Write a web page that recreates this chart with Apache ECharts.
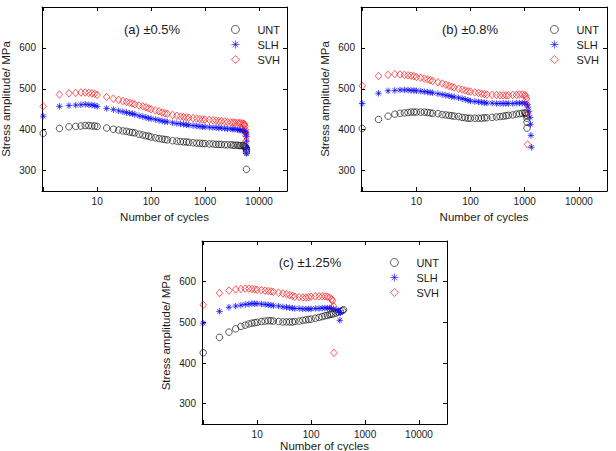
<!DOCTYPE html>
<html>
<head>
<meta charset="utf-8">
<script src="https://cdn.jsdelivr.net/npm/echarts@6.0.0/dist/echarts.min.js"></script>
<style>
  html, body { margin: 0; padding: 0; background: #fff; }
  #main { width: 616px; height: 451px; }
</style>
</head>
<body>
<div id="main"></div>
<script>
// tick labels
var xTicks = [10, 100, 1000, 10000];
var yTicks = [300, 400, 500, 600];
var materials = ['UNT', 'SLH', 'SVH'];
var panelTitles = ['(a) \u00b10.5%', '(b) \u00b10.8%', '(c) \u00b11.25%'];

// (a) +-0.5%
var cyclesA = [1,2,3,4,5,6,7,8,9,10, 15,20,25,30,35,40,45,50, 60,70,80,90,100, 120,140,160,180,200,
  250,300,350,400,450,500, 600,700,800,900,1000, 1200,1400,1600,1800,2000,
  2300,2600,3000,3300,3600,4000,4300,4600,5000,5300];
var untA = [391,403,407,408,409,410,410,409,409,408, 404,401,399,397,396,394,393,392, 389,387,385,384,382,
  380,378,377,376,375, 373,372,371,370,370,369, 368,367,367,366,366, 365,365,364,364,364,
  363,363,363,362,362,362,361,361,361,360];
var slhA = [433,457,459,460,461,462,461,460,459,457, 452,449,446,444,442,440,439,437, 434,432,430,428,427,
  425,423,421,420,419, 417,415,414,413,412,411, 410,409,408,407,407, 406,405,405,404,404,
  403,402,402,401,401,400,399,399,398,397];
var svhA = [457,486,489,490,491,491,490,489,488,485, 480,476,473,470,468,466,464,462, 459,457,455,452,450,
  447,445,442,440,439, 436,434,432,431,430,429, 428,427,426,425,425, 424,423,422,421,421,
  420,419,418,418,417,417,416,416,415,414];
var untATailX = [5500,5700,5800,5850,5850,5850];
var untATailY = [359,357,354,350,345,303];
var slhATailX = [5500,5700,5800,5850,5850,5850,5850];
var slhATailY = [396,393,390,383,372,356,342];
var svhATailX = [5400,5500,5600,5700,5700];
var svhATailY = [412,408,400,385,372];

// (b) +-0.8%
var cyclesB = [1,2,3,4,5,6,7,8,9,10, 12,14,16,18,20, 25,30,35,40,45,50, 60,70,80,90,100,
  120,140,160,180,200, 250,300,350,400,450,500, 600,700,800,900,1000];
var untB = [403,425,433,438,440,441,442,443,443,443, 443,443,442,441,440, 439,437,436,435,434,433,
  432,430,429,428,428, 428,428,428,429,429, 430,431,432,433,434,435, 436,438,439,440,441];
var slhB = [464,489,495,496,497,497,497,496,496,495, 494,493,492,491,490, 488,486,484,483,481,480,
  478,476,474,472,470, 469,468,467,466,465, 465,464,464,464,464,464, 464,465,465,465,465];
var svhB = [507,531,534,536,535,534,533,532,531,529, 527,525,523,521,519, 516,513,510,507,505,503,
  500,498,496,494,493, 491,490,488,487,486, 485,485,484,484,484,484, 485,485,486,486,485];
var untBTailX = [1050,1080,1100,1100,1100];
var untBTailY = [440,435,428,418,404];
var slhBTailX = [1100,1150,1200,1250,1280,1300,1330];
var slhBTailY = [462,455,445,430,413,386,357];
var svhBTailX = [1050,1080,1100,1120,1130];
var svhBTailY = [482,475,462,440,364];

// (c) +-1.25%
var cyclesC = [1,2,3,4,5,6,7,8,9,10, 12,14,16,18,20, 25,30,35,40,45,50, 60,70,80,90,100,
  120,140,160,180,200, 220,240];
var untC = [425,463,476,484,490,493,496,498,499,500, 502,503,504,504,503, 502,501,501,501,501,502,
  503,505,506,507,508, 510,512,514,516,517, 519,520];
var slhC = [498,527,537,540,542,544,545,546,546,546, 545,544,543,542,541, 540,538,537,536,535,534,
  534,533,533,533,533, 534,534,535,535,535, 535,534];
var svhC = [543,572,578,581,582,583,583,582,581,580, 579,578,577,576,575, 573,571,569,567,565,563,
  562,561,561,562,563, 564,564,564,564,563, 561,557];
var untCTailX = [260,290,320,350,380,400];
var untCTailY = [521,523,525,527,529,531];
var slhCTailX = [260,290,320,350,340];
var slhCTailY = [533,531,528,524,505];
var svhCTailX = [250,260,265];
var svhCTailY = [553,540,425];

var font = 'Liberation Sans, Arial, sans-serif';
var ink = '#1a1a1a';

function pairs(xs, ys, tx, ty) {
  var out = xs.map(function (x, i) { return [x, ys[i]]; });
  return out.concat(tx.map(function (x, i) { return [x, ty[i]]; }));
}

var panels = [
  [pairs(cyclesA, untA, untATailX, untATailY), pairs(cyclesA, slhA, slhATailX, slhATailY), pairs(cyclesA, svhA, svhATailX, svhATailY)],
  [pairs(cyclesB, untB, untBTailX, untBTailY), pairs(cyclesB, slhB, slhBTailX, slhBTailY), pairs(cyclesB, svhB, svhBTailX, svhBTailY)],
  [pairs(cyclesC, untC, untCTailX, untCTailY), pairs(cyclesC, slhC, slhCTailX, slhCTailY), pairs(cyclesC, svhC, svhCTailX, svhCTailY)]
];

var grids = [
  { left: 42, top: 7, width: 245, height: 184, outerBoundsMode: 'none' },
  { left: 361, top: 7, width: 246, height: 184, outerBoundsMode: 'none' },
  { left: 202, top: 241, width: 245, height: 183, outerBoundsMode: 'none' }
];
var titlePos = [[152, 29], [470, 29], [310, 262]];
var legendPos = [[226, 18], [545, 18], [385, 251]];
// bottom panel name sits lower in the source, pulled up just enough to stay inside
var xNameGap = [20, 20, 15];

var markStyle = [
  { symbol: 'circle', symbolSize: 6.5, itemStyle: { color: 'rgba(0,0,0,0)', borderColor: '#000', borderWidth: 0.8 } },
  { symbol: 'path://M5,0L5,10M0,5L10,5M1.5,1.5L8.5,8.5M1.5,8.5L8.5,1.5', symbolSize: 6.5, itemStyle: { color: 'rgba(0,0,0,0)', borderColor: '#0000ff', borderWidth: 0.9 } },
  { symbol: 'diamond', symbolSize: [6.5, 7.5], itemStyle: { color: 'rgba(0,0,0,0)', borderColor: '#ff0000', borderWidth: 0.8 } }
];

var xAxes = [], yAxes = [], series = [], legends = [], texts = [];
for (var p = 0; p < 3; p++) {
  var common = {
    gridIndex: p,
    axisLine: { onZero: false, lineStyle: { color: '#000', width: 1 } },
    axisTick: { inside: true, length: 4, lineStyle: { color: '#000' } },
    splitLine: { show: false }
  };
  xAxes.push(Object.assign({}, common, {
    type: 'log', logBase: 10, min: 0.95, max: 33000, position: 'bottom',
    name: 'Number of cycles', nameLocation: 'middle', nameGap: xNameGap[p],
    nameTextStyle: { fontSize: 11.5, color: ink, fontFamily: font },
    axisLabel: {
      margin: 5, fontSize: 10, color: ink, fontFamily: font,
      formatter: function (v) { var r = Math.round(v); return xTicks.indexOf(r) >= 0 ? String(r) : ''; }
    }
  }));
  yAxes.push(Object.assign({}, common, {
    type: 'value', min: 250, max: 700, position: 'left',
    name: 'Stress amplitude/ MPa', nameLocation: 'middle', nameGap: 30,
    nameTextStyle: { fontSize: 11.5, color: ink, fontFamily: font },
    axisLabel: {
      margin: 6, fontSize: 10, color: ink, fontFamily: font,
      formatter: function (v) { return yTicks.indexOf(v) >= 0 ? String(v) : ''; }
    }
  }));
  for (var m = 0; m < 3; m++) {
    series.push(Object.assign({
      type: 'scatter', name: materials[m], xAxisIndex: p, yAxisIndex: p,
      data: panels[p][m], animation: false
    }, markStyle[m]));
  }
  legends.push({
    data: materials, orient: 'vertical', left: legendPos[p][0], top: legendPos[p][1],
    itemWidth: 8, itemHeight: 8, itemGap: 2, selectedMode: false,
    itemStyle: { borderWidth: 0.8 },
    textStyle: { fontSize: 11, color: ink, fontFamily: font, lineHeight: 13, padding: [0, 0, 0, 13] }
  });
  texts.push({
    type: 'text', x: titlePos[p][0], y: titlePos[p][1],
    style: { text: panelTitles[p], fontSize: 13, fontFamily: font, fill: ink,
      align: 'center', textAlign: 'center', verticalAlign: 'middle', textVerticalAlign: 'middle' }
  });
}
// mirrored axes (top / right) to close the box
for (var q = 0; q < 3; q++) {
  xAxes.push({
    type: 'log', logBase: 10, min: 0.95, max: 33000, gridIndex: q, position: 'top',
    axisLine: { onZero: false, lineStyle: { color: '#000', width: 1 } },
    axisTick: { inside: true, length: 4, lineStyle: { color: '#000' } },
    axisLabel: { show: false }, splitLine: { show: false }
  });
  yAxes.push({
    type: 'value', min: 250, max: 700, gridIndex: q, position: 'right',
    axisLine: { onZero: false, lineStyle: { color: '#000', width: 1 } },
    axisTick: { inside: true, length: 4, lineStyle: { color: '#000' } },
    axisLabel: { show: false }, splitLine: { show: false }
  });
}

var myChart = echarts.init(document.getElementById('main'), null, { renderer: 'svg' });
myChart.setOption({
  animation: false,
  backgroundColor: '#fff',
  grid: grids,
  xAxis: xAxes,
  yAxis: yAxes,
  legend: legends,
  graphic: texts,
  series: series
});
</script>
</body>
</html>
